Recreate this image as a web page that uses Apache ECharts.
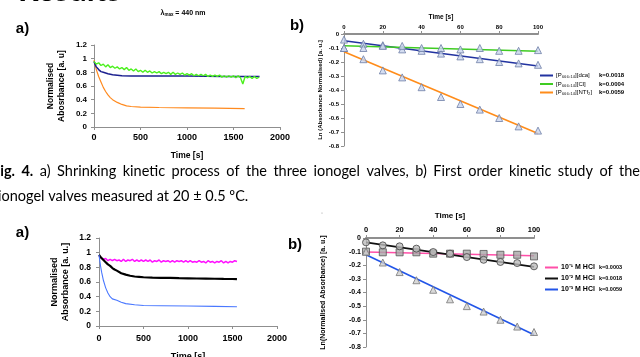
<!DOCTYPE html>
<html><head><meta charset="utf-8">
<script src="https://cdn.jsdelivr.net/npm/echarts@6/dist/echarts.min.js"></script>
<style>html,body{margin:0;padding:0;background:#fff;overflow:hidden}#c{width:640px;height:357px}</style>
</head><body><div id="c"></div>
<script>
// ---------- Panel a (top): Normalised absorbance vs time ----------
const tlDcaT = [0,10,25,50,75,100,150,200,300,400,600,800,1000,1200,1400,1600,1780];
const tlDcaV = [0.96,0.92,0.88,0.84,0.81,0.80,0.78,0.765,0.75,0.745,0.745,0.745,0.745,0.743,0.74,0.74,0.74];
const tlNtfT = [0,10,25,50,75,100,125,150,175,200,250,300,350,400,500,700,1000,1300,1620];
const tlNtfV = [0.98,0.92,0.84,0.74,0.66,0.58,0.52,0.47,0.43,0.40,0.36,0.33,0.31,0.30,0.29,0.285,0.28,0.275,0.27];
const tlClT = [0,25,50,75,100,125,150,175,200,225,250,275,300,325,350,375,400,425,450,475,500,525,550,575,600,625,650,675,700,725,750,775,800,825,850,875,900,925,950,975,1000,1025,1050,1075,1100,1125,1150,1175,1200,1225,1250,1275,1300,1325,1350,1375,1400,1425,1450,1475,1500,1525,1550,1575,1600,1625,1650,1675,1700,1725,1750,1775];
const tlClV = [0.96,0.92,0.94,0.90,0.92,0.88,0.91,0.87,0.89,0.86,
  0.88,0.85,0.87,0.84,0.87,0.83,0.85,0.82,0.85,0.81,
  0.83,0.80,0.83,0.80,0.82,0.79,0.81,0.79,0.81,0.78,
  0.80,0.78,0.80,0.77,0.80,0.77,0.79,0.77,0.79,0.76,
  0.78,0.76,0.78,0.75,0.77,0.75,0.77,0.75,0.77,0.74,
  0.76,0.74,0.76,0.74,0.76,0.73,0.75,0.73,0.75,0.73,
  0.75,0.72,0.75,0.72,0.63,0.74,0.72,0.74,0.71,0.74,
  0.71,0.73];

// ---------- Panel b (top): first order kinetics ----------
const kinT = [0,10,20,30,40,50,60,70,80,90,100];
const trDcaPts = [-0.04,-0.07,-0.08,-0.11,-0.12,-0.14,-0.16,-0.18,-0.20,-0.21,-0.22];
const trClPts  = [-0.10,-0.10,-0.085,-0.085,-0.10,-0.10,-0.11,-0.10,-0.12,-0.12,-0.115];
const trNtfPts = [-0.10,-0.18,-0.26,-0.31,-0.38,-0.45,-0.50,-0.54,-0.60,-0.66,-0.69];
const fitT = [0,100];
const trDcaFit = [-0.048,-0.228];
const trClFit  = [-0.084,-0.123];
const trNtfFit = [-0.127,-0.71];
const trNames = ['[P₆₆₆,₁₄][dca]','[P₆₆₆,₁₄][Cl]','[P₆₆₆,₁₄][NTf₂]'];
const trK = ['k=0.0018','k=0.0004','k=0.0059'];

// ---------- Panel a (bottom) ----------
const blMagT = [0,25,50,75,100,125,150,175,200,225,250,275,300,325,350,375,400,425,450,475,500,525,550,575,600,625,650,675,700,725,750,775,800,825,850,875,900,925,950,975,1000,1025,1050,1075,1100,1125,1150,1175,1200,1225,1250,1275,1300,1325,1350,1375,1400,1425,1450,1475,1500,1525,1550];
const blMagV = [0.96,0.93,0.91,0.92,0.89,0.91,0.89,0.91,0.89,0.90,
  0.88,0.91,0.88,0.90,0.89,0.91,0.88,0.90,0.88,0.90,
  0.88,0.90,0.88,0.90,0.87,0.89,0.88,0.90,0.87,0.89,
  0.88,0.89,0.87,0.89,0.87,0.89,0.88,0.89,0.87,0.89,
  0.87,0.89,0.87,0.88,0.87,0.89,0.87,0.88,0.86,0.89,
  0.87,0.88,0.86,0.88,0.87,0.89,0.86,0.88,0.86,0.88,
  0.87,0.89,0.88];
const blBlkT = [0,25,50,75,100,125,150,175,200,250,300,350,400,450,500,600,700,800,900,1000,1100,1200,1300,1400,1500,1550];
const blBlkV = [0.97,0.93,0.90,0.87,0.84,0.82,0.79,0.77,0.755,0.72,0.70,0.685,0.675,0.67,0.665,0.66,0.657,0.655,0.652,0.65,0.648,0.646,0.644,0.642,0.641,0.64];
const blBluT = [0,10,20,30,50,75,100,125,150,200,250,300,400,500,700,1000,1300,1550];
const blBluV = [0.97,0.88,0.80,0.73,0.62,0.52,0.45,0.40,0.37,0.35,0.325,0.305,0.29,0.28,0.277,0.273,0.268,0.263];

// ---------- Panel b (bottom) ----------
const brPinkPts = [-0.10,-0.105,-0.105,-0.105,-0.115,-0.115,-0.115,-0.117,-0.123,-0.123,-0.135];
const brBlkPts  = [-0.032,-0.054,-0.061,-0.078,-0.103,-0.115,-0.14,-0.16,-0.176,-0.184,-0.208];
const brBluPts  = [-0.10,-0.18,-0.25,-0.31,-0.38,-0.45,-0.50,-0.54,-0.60,-0.65,-0.69];
const brPinkFit = [-0.103,-0.13];
const brBlkFit  = [-0.032,-0.212];
const brBluFit  = [-0.123,-0.71];
const brNames = ['10⁻¹ M HCl','10⁻² M HCl','10⁻³ M HCl'];
const brK = ['k=0.0003','k=0.0018','k=0.0059'];

// ---------- caption text ----------
const capLine1 = 'Fig. 4. a) Shrinking kinetic process of the three ionogel valves, b) First order kinetic study of the';
const capLine2 = 'ionogel valves measured at 20 ± 0.5 ºC.';

// ---------- build ----------
const F = '"Liberation Sans", Arial, sans-serif';
const CAPF = 'Lato, sans-serif';
const GRAY = '#8f8f8f';
const pairs = (ts, vs) => ts.map((t, i) => [t, vs[i]]);

function xAx(gi, o) {
  return {
    type: 'value', gridIndex: gi, min: o.min, max: o.max, interval: o.interval,
    position: o.position || 'bottom',
    name: 'Time [s]', nameLocation: 'middle', nameGap: o.nameGap,
    nameTextStyle: { fontFamily: F, fontWeight: 'bold', fontSize: o.nameSize, color: '#000' },
    axisLine: { show: true, onZero: false, lineStyle: { color: GRAY, width: o.lineW || 1 } },
    axisTick: { show: true, length: 3, lineStyle: { color: GRAY } },
    axisLabel: { fontFamily: F, fontWeight: 'bold', fontSize: o.labelSize, color: '#000', margin: o.margin, formatter: v => String(v) },
    splitLine: { show: false }
  };
}
function yAx(gi, o) {
  return {
    type: 'value', gridIndex: gi, min: o.min, max: o.max, interval: o.interval,
    name: o.name, nameLocation: 'middle', nameGap: o.nameGap, nameRotate: 90,
    nameTextStyle: { fontFamily: F, fontWeight: 'bold', fontSize: o.nameSize, color: '#000', lineHeight: o.nameLH || o.nameSize + 2, align: 'center' },
    axisLine: { show: true, onZero: false, lineStyle: { color: GRAY } },
    axisTick: { show: true, length: 3, lineStyle: { color: GRAY } },
    axisLabel: { fontFamily: F, fontWeight: 'bold', fontSize: o.labelSize, color: '#000', margin: o.margin },
    splitLine: { show: false }
  };
}
function curve(name, gi, data, color, w) {
  return { name, type: 'line', xAxisIndex: gi, yAxisIndex: gi, data, symbol: 'none',
    lineStyle: { color, width: w }, itemStyle: { color }, animation: false, z: 2 };
}
function pts(gi, data, symbol, fill, border) {
  return { type: 'scatter', xAxisIndex: gi, yAxisIndex: gi, data, symbol, symbolSize: 7,
    itemStyle: { color: fill, borderColor: border, borderWidth: 1 }, animation: false, z: 4 };
}

// justified first caption line (word positions measured with the same font)
const ctx = document.createElement('canvas').getContext('2d');
const capSize = 14.5;
const words = capLine1.split(' ');
const fonts = words.map((w, i) => (i < 2 ? 'bold ' : '') + capSize + 'px ' + CAPF);
const widths = words.map((w, i) => { ctx.font = fonts[i]; return ctx.measureText(w).width; });
const startX = -8, endX = 640;
const gap = (endX - startX - widths.reduce((a, b) => a + b, 0)) / (words.length - 1);
const capGraphics = [];
let cx = startX;
words.forEach((w, i) => {
  capGraphics.push({ type: 'text', x: cx, y: 171, style: { text: w, font: fonts[i], fill: '#000', verticalAlign: 'middle' } });
  cx += widths[i] + gap;
});

const option = {
  backgroundColor: '#fff',
  animation: false,
  grid: [
    { left: 94, top: 45, width: 186, height: 82, outerBoundsMode: 'none' },
    { left: 344, top: 34, width: 194, height: 112, outerBoundsMode: 'none' },
    { left: 99, top: 238, width: 178, height: 88, outerBoundsMode: 'none' },
    { left: 366, top: 238, width: 168, height: 109, outerBoundsMode: 'none' }
  ],
  xAxis: [
    xAx(0, { min: 0, max: 2000, interval: 500, nameGap: 24, nameSize: 8.5, labelSize: 9, margin: 6 }),
    xAx(1, { min: 0, max: 100, interval: 20, position: 'top', nameGap: 13, nameSize: 6.5, labelSize: 6, margin: 4, lineW: 2 }),
    xAx(2, { min: 0, max: 2000, interval: 500, nameGap: 26, nameSize: 9, labelSize: 9, margin: 8 }),
    xAx(3, { min: 0, max: 100, interval: 20, position: 'top', nameGap: 18, nameSize: 8, labelSize: 7.5, margin: 4, lineW: 2 })
  ],
  yAxis: [
    yAx(0, { min: 0, max: 1.2, interval: 0.2, name: 'Normalised\nAbosrbance [a. u]', nameGap: 27, nameSize: 8.5, nameLH: 11, labelSize: 8, margin: 7 }),
    yAx(1, { min: -0.8, max: 0, interval: 0.1, name: 'Ln (Absorbance Normalised) [a. u.]', nameGap: 19, nameSize: 6, labelSize: 6, margin: 5 }),
    yAx(2, { min: 0, max: 1.2, interval: 0.2, name: 'Normalised\nAbsorbance [a. u.]', nameGap: 28, nameSize: 9, nameLH: 11, labelSize: 8.5, margin: 8 }),
    yAx(3, { min: -0.8, max: 0, interval: 0.1, name: 'Ln(Normalised Absorbance) [a. u.]', nameGap: 38, nameSize: 7, labelSize: 7, margin: 5 })
  ],
  legend: [
    { data: ['dca', 'Cl', 'NTf2'], orient: 'vertical', left: 540, top: 72, itemWidth: 13, itemHeight: 2, itemGap: 1.5,
      icon: 'rect', selectedMode: false, padding: 0,
      formatter: n => { const i = ['dca', 'Cl', 'NTf2'].indexOf(n); return '{n|' + trNames[i] + '}{k|' + trK[i] + '}'; },
      textStyle: { fontFamily: F, fontSize: 6, color: '#000', lineHeight: 7, padding: [0, 0, 0, -2],
        rich: { n: { fontFamily: F, fontSize: 6, width: 43, color: '#000' }, k: { fontFamily: F, fontSize: 6, fontWeight: 'bold', color: '#000' } } } },
    { data: ['h1', 'h2', 'h3'], orient: 'vertical', left: 545, top: 263, itemWidth: 13, itemHeight: 2, itemGap: 2,
      icon: 'rect', selectedMode: false, padding: 0,
      formatter: n => { const i = ['h1', 'h2', 'h3'].indexOf(n); return '{n|' + brNames[i] + '}{k|' + brK[i] + '}'; },
      textStyle: { fontFamily: F, fontSize: 7, color: '#000', lineHeight: 9, padding: [0, 0, 0, -2],
        rich: { n: { fontFamily: F, fontSize: 7, fontWeight: 'bold', width: 38, color: '#000' }, k: { fontFamily: F, fontSize: 5.5, fontWeight: 'bold', color: '#000' } } } }
  ],
  series: [
    curve('tl-ntf', 0, pairs(tlNtfT, tlNtfV), '#ff8a1f', 1.2),
    curve('tl-dca', 0, pairs(tlDcaT, tlDcaV), '#1b1f8f', 1.5),
    curve('tl-cl', 0, pairs(tlClT, tlClV), '#4cf01e', 1.4),

    pts(1, pairs(kinT, trDcaPts), 'triangle', '#c9d4ee', '#6f7fa8'),
    pts(1, pairs(kinT, trClPts), 'triangle', '#c9d4ee', '#6f7fa8'),
    pts(1, pairs(kinT, trNtfPts), 'triangle', '#c9d4ee', '#6f7fa8'),
    curve('dca', 1, pairs(fitT, trDcaFit), '#2233a0', 1.6),
    curve('Cl', 1, pairs(fitT, trClFit), '#3fcc22', 1.6),
    curve('NTf2', 1, pairs(fitT, trNtfFit), '#ff8c1a', 1.6),

    curve('bl-mag', 2, pairs(blMagT, blMagV), '#ff10ff', 1.5),
    curve('bl-blk', 2, pairs(blBlkT, blBlkV), '#000000', 2.2),
    curve('bl-blu', 2, pairs(blBluT, blBluV), '#4a78ff', 1.1),

    pts(3, pairs(kinT, brPinkPts), 'rect', '#a8a8a8', '#555555'),
    pts(3, pairs(kinT, brBlkPts), 'circle', '#bcbcbc', '#444444'),
    pts(3, pairs(kinT, brBluPts), 'triangle', '#d0d0d0', '#777777'),
    curve('h1', 3, pairs(fitT, brPinkFit), '#ff4fa8', 1.6),
    curve('h2', 3, pairs(fitT, brBlkFit), '#111111', 1.6),
    curve('h3', 3, pairs(fitT, brBluFit), '#2255e8', 1.6)
  ],
  graphic: [
    { type: 'text', x: 18, y: -9, style: { text: 'Results', font: 'bold 32px Lato, sans-serif', fill: '#000', verticalAlign: 'middle' } },
    { type: 'text', x: 183, y: 13, style: { text: '{a|λ}{s|max}{a| = 440 nm}', align: 'center', verticalAlign: 'middle',
        rich: { a: { font: 'bold 7px ' + F, fill: '#000' }, s: { font: 'bold 4.5px ' + F, fill: '#000', verticalAlign: 'bottom', padding: [3, 0, 0, 0] } } } },
    { type: 'text', x: 22.5, y: 29, style: { text: 'a)', font: 'bold 15px ' + F, fill: '#000', align: 'center', verticalAlign: 'middle' } },
    { type: 'text', x: 297, y: 26, style: { text: 'b)', font: 'bold 15px ' + F, fill: '#000', align: 'center', verticalAlign: 'middle' } },
    { type: 'text', x: 22.5, y: 233, style: { text: 'a)', font: 'bold 15px ' + F, fill: '#000', align: 'center', verticalAlign: 'middle' } },
    { type: 'text', x: 295, y: 245, style: { text: 'b)', font: 'bold 15px ' + F, fill: '#000', align: 'center', verticalAlign: 'middle' } },
    ...capGraphics,
    { type: 'text', x: -2, y: 196, style: { text: capLine2, font: capSize + 'px ' + CAPF, fill: '#000', verticalAlign: 'middle' } },
    { type: 'circle', shape: { cx: 322, cy: 213, r: 0.6 }, style: { fill: '#999' } }
  ]
};
const chart = echarts.init(document.getElementById('c'));
chart.setOption(option);
</script>
</body></html>
